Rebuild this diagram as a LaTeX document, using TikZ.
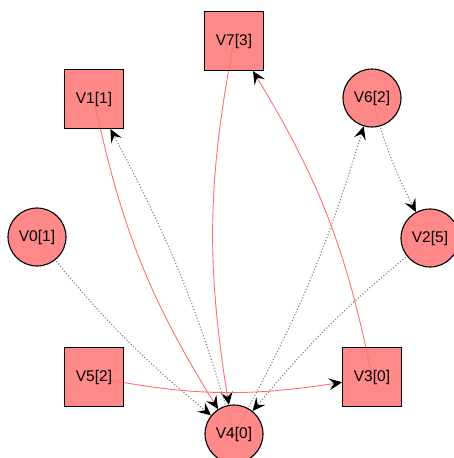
\documentclass[tikz,border=0pt]{standalone}
\usepackage{fontspec}
\setmainfont{Liberation Sans}
\usetikzlibrary{arrows.meta,backgrounds}
\definecolor{nodered}{RGB}{255,115,115}
\definecolor{edgered}{RGB}{255,110,110}

\begin{document}
\begin{tikzpicture}[x=1pt,y=-1pt,
    vsq/.style={draw, line width=1.1pt, fill=nodered, fill opacity=0.85, text opacity=1,
      minimum size=59pt, inner sep=0pt, font=\fontsize{15.5}{17}\selectfont},
    vcirc/.style={vsq, circle, minimum size=58pt},
    tip/.style={-{Stealth[black,length=13pt,width=12pt,inset=5pt]}},
    redge/.style={edgered, line width=0.9pt, tip, bend right=10},
    dedge/.style={gray, dotted, line width=1.1pt, tip, bend right=6}]
                \useasboundingbox (0,0) rectangle (454,458);
                \node[vsq] (v7) at (234,41) {V7[3]};
                \node[vsq] (v1) at (94,99) {V1[1]};
                \node[vcirc] (v6) at (372,98) {V6[2]};
                \node[vcirc] (v0) at (37,237) {V0[1]};
                \node[vcirc] (v2) at (430,238) {V2[5]};
                \node[vsq] (v5) at (94,377) {V5[2]};
                \node[vsq] (v3) at (372,377) {V3[0]};
                \node[vcirc] (v4) at (234,434) {V4[0]};
                \begin{scope}[on background layer]
                \draw[redge] (v1.center) to (v4);
                \draw[redge] (v7.center) to (v4);
                \draw[redge] (v3.center) to (v7);
                \draw[redge] (v5.center) to (v3);
                \draw[dedge] (v0.center) to (v4);
                \draw[dedge] (v4.center) to (v1);
                \draw[dedge] (v4.center) to (v6);
                \draw[dedge] (v6.center) to (v2);
                \draw[dedge] (v2.center) to (v4);
                \end{scope}
\end{tikzpicture}
\end{document}
